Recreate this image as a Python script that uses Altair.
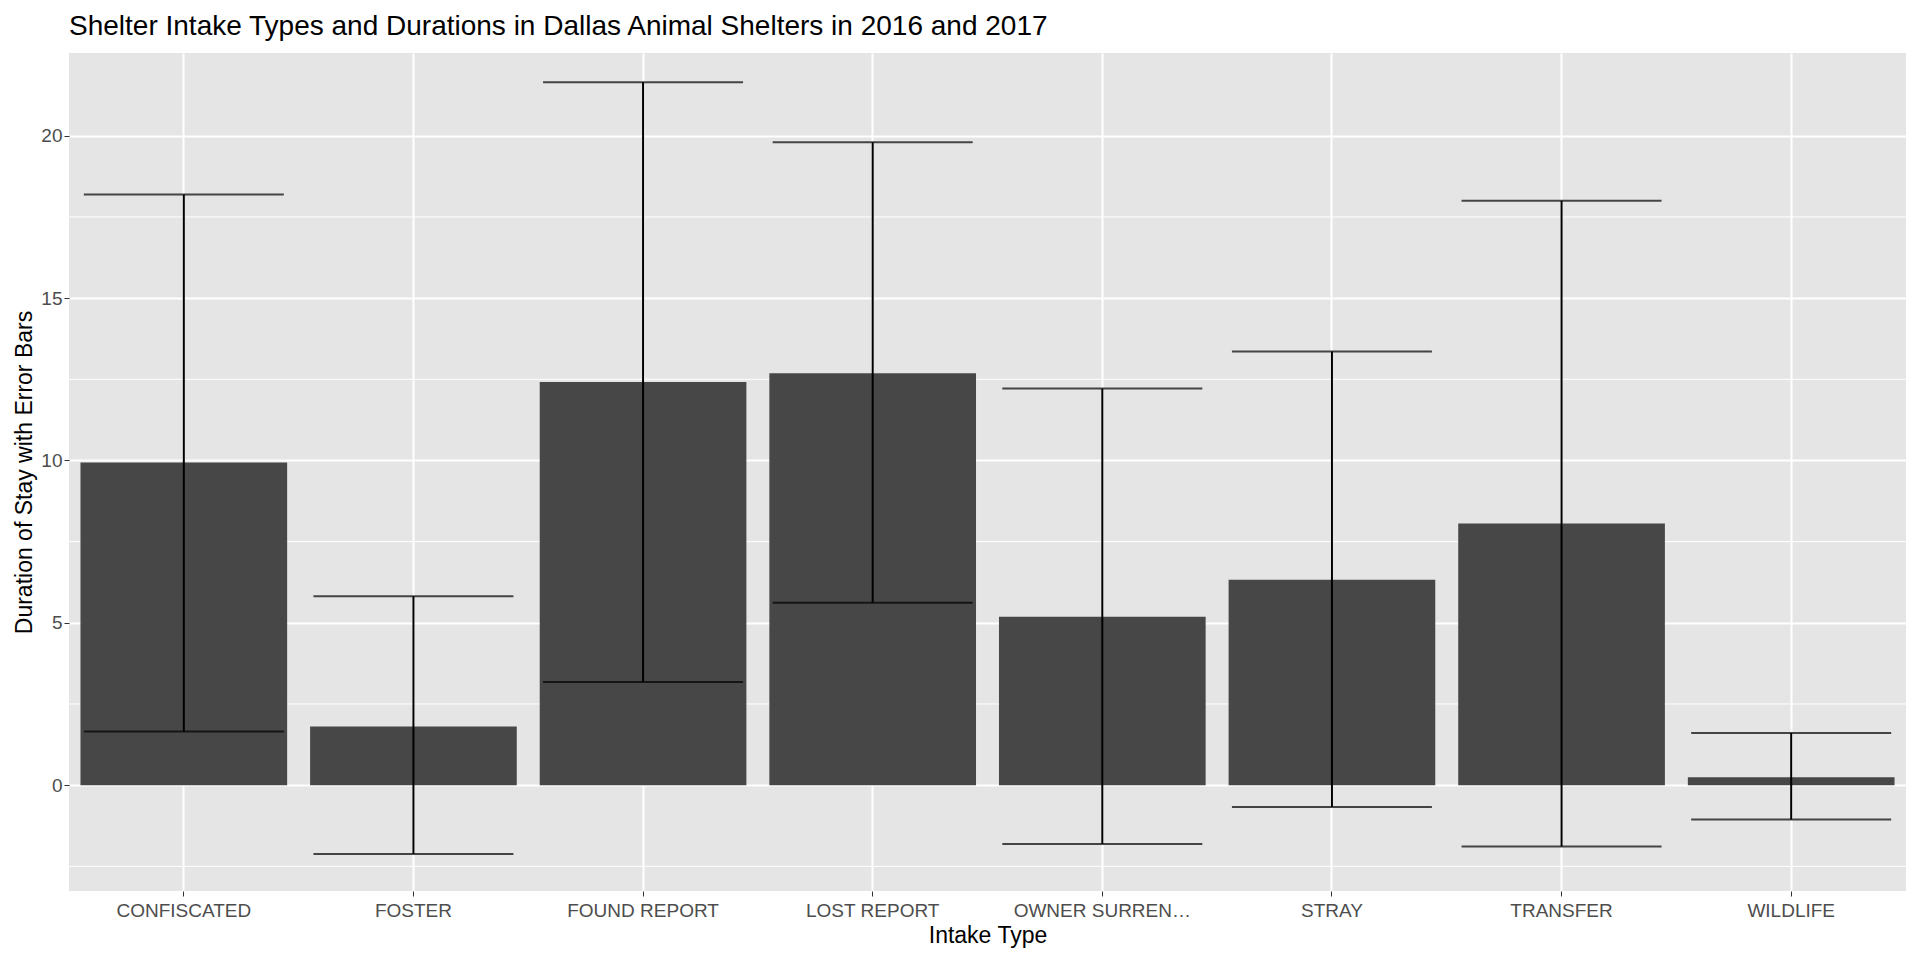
import pandas as pd
import altair as alt

intake_types = ["CONFISCATED", "FOSTER", "FOUND REPORT", "LOST REPORT",
                "OWNER SURRENDER", "STRAY", "TRANSFER", "WILDLIFE"]
mean_stay = [9.94, 1.81, 12.42, 12.69, 5.19, 6.33, 8.06, 0.24]
err_low = [1.65, -2.12, 3.18, 5.62, -1.81, -0.67, -1.89, -1.06]
err_high = [18.19, 5.82, 21.65, 19.80, 12.22, 13.36, 18.00, 1.61]
minor_grid = [-2.5, 2.5, 7.5, 12.5, 17.5]

source = pd.DataFrame({"intake": intake_types, "stay": mean_stay,
                       "lo": err_low, "hi": err_high})

x_enc = alt.X("intake:N", title="Intake Type", sort=intake_types,
              scale=alt.Scale(paddingInner=0.1, paddingOuter=0.05),
              axis=alt.Axis(labelAngle=0, grid=True, gridColor="white", gridWidth=2,
                            tickColor="#333333", labelColor="#4d4d4d",
                            labelFontSize=19, titleFontSize=23, titleFontWeight="normal",
                            titleColor="black", domain=False, labelPadding=5))
y_scale = alt.Scale(domain=[-3.26, 22.55], nice=False, zero=False)

base = alt.Chart(source)

minor = alt.Chart(pd.DataFrame({"v": minor_grid})).mark_rule(
    color="white", strokeWidth=1
).encode(y=alt.Y("v:Q", scale=y_scale))

bars = base.mark_bar(color="#474747").encode(
    x=x_enc,
    y=alt.Y("stay:Q", scale=y_scale, title="Duration of Stay with Error Bars",
            axis=alt.Axis(values=[0, 5, 10, 15, 20], grid=True, gridColor="white",
                          gridWidth=2, tickColor="#333333", labelColor="#4d4d4d",
                          labelFontSize=19, titleFontSize=23, titleColor="black",
                          titleFontWeight="normal", domain=False)),
)

stems = base.mark_rule(color="black", strokeWidth=2).encode(
    x=alt.X("intake:N", sort=intake_types), y="lo:Q", y2="hi:Q")
cap_lo = base.mark_tick(color="black", thickness=2, size=200).encode(
    x=alt.X("intake:N", sort=intake_types), y="lo:Q")
cap_hi = base.mark_tick(color="black", thickness=2, size=200).encode(
    x=alt.X("intake:N", sort=intake_types), y="hi:Q")

chart = alt.layer(minor, bars, stems, cap_lo, cap_hi).properties(
    width=1904, height=944,
    autosize=alt.AutoSizeParams(type="fit", contains="padding"),
    title=alt.Title("Shelter Intake Types and Durations in Dallas Animal Shelters in 2016 and 2017",
                    anchor="start", frame="group", fontSize=28, fontWeight="normal",
                    color="black", offset=12),
).configure(font="Liberation Sans").configure_view(fill="#e5e5e5", stroke=None)

chart.save("out.html", embed_options={"renderer": "svg", "actions": False})
